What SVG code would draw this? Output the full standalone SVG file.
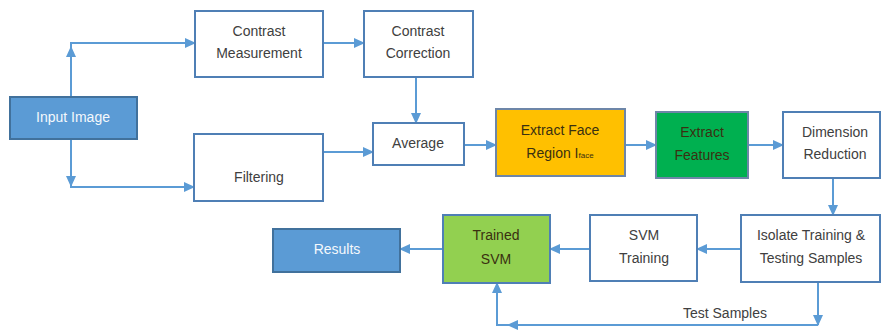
<svg xmlns="http://www.w3.org/2000/svg" width="883" height="331" viewBox="0 0 883 331">
<defs>
<style>
.box{fill:#fff;stroke:#4f7fb5;stroke-width:2}
.blue{fill:#5b9bd5;stroke:#41719c;stroke-width:2}
.gold{fill:#ffc000;stroke:#6d86a8;stroke-width:2}
.green{fill:#00b050;stroke:#6d86a8;stroke-width:2}
.lime{fill:#92d050;stroke:#4f7fb5;stroke-width:2}
text{font-family:"Liberation Sans",Arial,sans-serif;font-size:14px;text-anchor:middle}
.t{fill:#404040}
.w{fill:#f4f8fc}
.d{fill:#3a3010}
.c{fill:none;stroke:#5b9bd5;stroke-width:2}
</style>
<marker id="a" markerUnits="userSpaceOnUse" markerWidth="11" markerHeight="10" viewBox="0 0 11 10" refX="10" refY="5" orient="auto">
<path d="M0,0 L11,5 L0,10 Z" fill="#5b9bd5"/>
</marker>
</defs>
<g id="connectors">
<path class="c" d="M71,97 V47" marker-end="url(#a)"/>
<path class="c" d="M71,48 V43 H195" marker-end="url(#a)"/>
<path class="c" d="M71,139 V186" marker-end="url(#a)"/>
<path class="c" d="M71,185 V187 H194" marker-end="url(#a)"/>
<path class="c" d="M323,43 H364" marker-end="url(#a)"/>
<path class="c" d="M416,77 V123" marker-end="url(#a)"/>
<path class="c" d="M323,152 H373" marker-end="url(#a)"/>
<path class="c" d="M464,145 H496" marker-end="url(#a)"/>
<path class="c" d="M625,145 H656" marker-end="url(#a)"/>
<path class="c" d="M748,145 H783" marker-end="url(#a)"/>
<path class="c" d="M833,178 V215" marker-end="url(#a)"/>
<path class="c" d="M741,249 H697" marker-end="url(#a)"/>
<path class="c" d="M590,249 H550" marker-end="url(#a)"/>
<path class="c" d="M443,249 H400" marker-end="url(#a)"/>
<path class="c" d="M818,282 V325" marker-end="url(#a)"/>
<path class="c" d="M818,325 H508" marker-end="url(#a)"/>
<path class="c" d="M510,325 H497 V283" marker-end="url(#a)"/>
<text class="t" x="725" y="318">Test Samples</text>
</g>
<g id="input-image">
<rect class="blue" x="10" y="97" width="127" height="42"/>
<text class="w" x="73" y="122">Input Image</text>
</g>
<g id="contrast-measurement">
<rect class="box" x="195" y="11" width="128" height="66"/>
<text class="t" x="259" y="36">Contrast</text>
<text class="t" x="259" y="58">Measurement</text>
</g>
<g id="contrast-correction">
<rect class="box" x="364" y="11" width="109" height="66"/>
<text class="t" x="418" y="36">Contrast</text>
<text class="t" x="418" y="58">Correction</text>
</g>
<g id="filtering">
<rect class="box" x="194" y="134" width="129" height="67"/>
<text class="t" x="259" y="182">Filtering</text>
</g>
<g id="average">
<rect class="box" x="373" y="123" width="91" height="42"/>
<text class="t" x="418" y="148">Average</text>
</g>
<g id="extract-face">
<rect class="gold" x="496" y="109" width="129" height="67"/>
<text class="d" x="560" y="135">Extract Face</text>
<text class="d" x="560" y="158">Region I<tspan font-size="8">face</tspan></text>
</g>
<g id="extract-features">
<rect class="green" x="656" y="112" width="92" height="66"/>
<text class="d" x="702" y="137" fill="#123a1a">Extract</text>
<text class="d" x="702" y="160" fill="#123a1a">Features</text>
</g>
<g id="dimension-reduction">
<rect class="box" x="783" y="112" width="97" height="66"/>
<text class="t" x="835" y="137">Dimension</text>
<text class="t" x="835" y="159">Reduction</text>
</g>
<g id="isolate">
<rect class="box" x="741" y="215" width="139" height="67"/>
<text class="t" x="811" y="240">Isolate Training &amp;</text>
<text class="t" x="811" y="263">Testing Samples</text>
</g>
<g id="svm-training">
<rect class="box" x="590" y="215" width="107" height="66"/>
<text class="t" x="644" y="240">SVM</text>
<text class="t" x="644" y="263">Training</text>
</g>
<g id="trained-svm">
<rect class="lime" x="443" y="215" width="107" height="68"/>
<text class="d" x="496" y="240" fill="#1f3310">Trained</text>
<text class="d" x="496" y="264" fill="#1f3310">SVM</text>
</g>
<g id="results">
<rect class="blue" x="273" y="229" width="127" height="43"/>
<text class="w" x="337" y="254">Results</text>
</g>
</svg>
